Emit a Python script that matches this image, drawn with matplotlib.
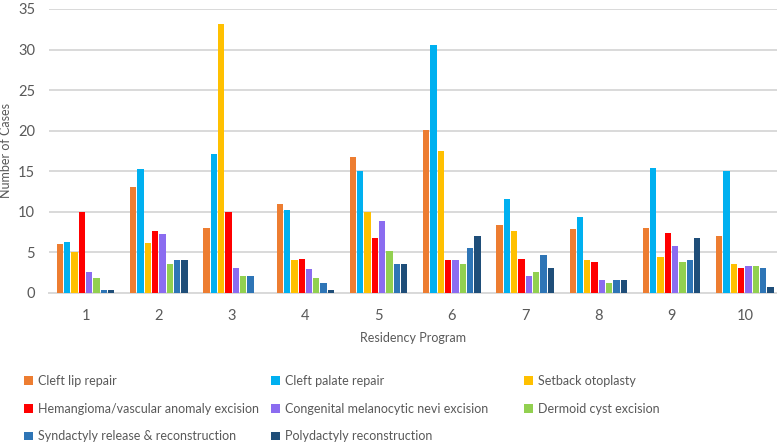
import numpy as np
import matplotlib.pyplot as plt

plt.rcParams['font.family'] = ['Lato', 'DejaVu Sans']

programs = [1, 2, 3, 4, 5, 6, 7, 8, 9, 10]
procedures = ["Cleft lip repair", "Cleft palate repair", "Setback otoplasty",
              "Hemangioma/vascular anomaly excision", "Congenital melanocytic nevi excision",
              "Dermoid cyst excision", "Syndactyly release & reconstruction",
              "Polydactyly reconstruction"]

cleft_lip = [6.0, 13.0, 8.0, 11.0, 16.7, 20.1, 8.3, 7.8, 8.0, 7.0]
cleft_palate = [6.3, 15.2, 17.1, 10.2, 15.0, 30.6, 11.5, 9.3, 15.4, 15.0]
otoplasty = [5.0, 6.1, 33.2, 4.0, 10.0, 17.5, 7.6, 4.0, 4.4, 3.5]
hemangioma = [10.0, 7.6, 10.0, 4.2, 6.8, 4.0, 4.2, 3.8, 7.4, 3.1]
nevi = [2.5, 7.2, 3.1, 2.9, 8.9, 4.0, 2.0, 1.6, 5.7, 3.3]
dermoid = [1.8, 3.5, 2.0, 1.8, 5.2, 3.5, 2.5, 1.2, 3.8, 3.3]
syndactyly = [0.3, 4.0, 2.0, 1.2, 3.5, 5.5, 4.6, 1.6, 4.0, 3.1]
polydactyly = [0.3, 4.0, 0.0, 0.3, 3.5, 7.0, 3.1, 1.6, 6.8, 0.7]

series = [cleft_lip, cleft_palate, otoplasty, hemangioma, nevi, dermoid, syndactyly, polydactyly]
colors = ['#ED7D31', '#00B0F0', '#FFC000', '#FF0000', '#8B6CF0', '#92D050', '#2E75B6', '#1F4E79']

fig = plt.figure(figsize=(7.77, 4.45), dpi=100)
ax = fig.add_axes([49 / 777, 1 - 292.7 / 445, 728 / 777, 283.7 / 445])

x = np.array(programs)
step = 0.1
handles = []
for i, (vals, c) in enumerate(zip(series, colors)):
    b = ax.bar(x + (i - 3.5) * step, vals, width=0.086, color=c, zorder=3)
    handles.append(b)

ax.set_xlim(0.5, 10.44)
ax.set_ylim(0, 35)
ax.set_yticks(range(0, 36, 5))
ax.set_xticks(programs)
ax.grid(axis='y', color='#D9D9D9', linewidth=1.4, zorder=0)
for s in ['top', 'right', 'left']:
    ax.spines[s].set_visible(False)
ax.spines['bottom'].set_color('#D9D9D9')
ax.spines['bottom'].set_linewidth(1.4)
ax.tick_params(axis='both', length=0, labelsize=10.5, labelcolor='#595959')
ax.tick_params(axis='x', pad=12)
ax.tick_params(axis='y', pad=10)
ax.set_ylabel("Number of Cases", fontsize=9, color='#595959', labelpad=4)
ax.set_xlabel("Residency Program", fontsize=9, color='#595959', labelpad=6)

# legend is laid out row by row, one legend per column so columns line up
col_x = [24, 271, 524]
for j, cx in enumerate(col_x):
    idx = list(range(j, len(procedures), 3))
    fig.legend([handles[k] for k in idx], [procedures[k] for k in idx],
               loc='upper left', bbox_to_anchor=(cx / 777, 1 - 375 / 445),
               frameon=False, fontsize=9, labelcolor='#595959',
               handlelength=0.7, handleheight=0.7, handletextpad=0.4,
               labelspacing=1.25, borderaxespad=0, borderpad=0)

fig.savefig("out.png", dpi=100)
